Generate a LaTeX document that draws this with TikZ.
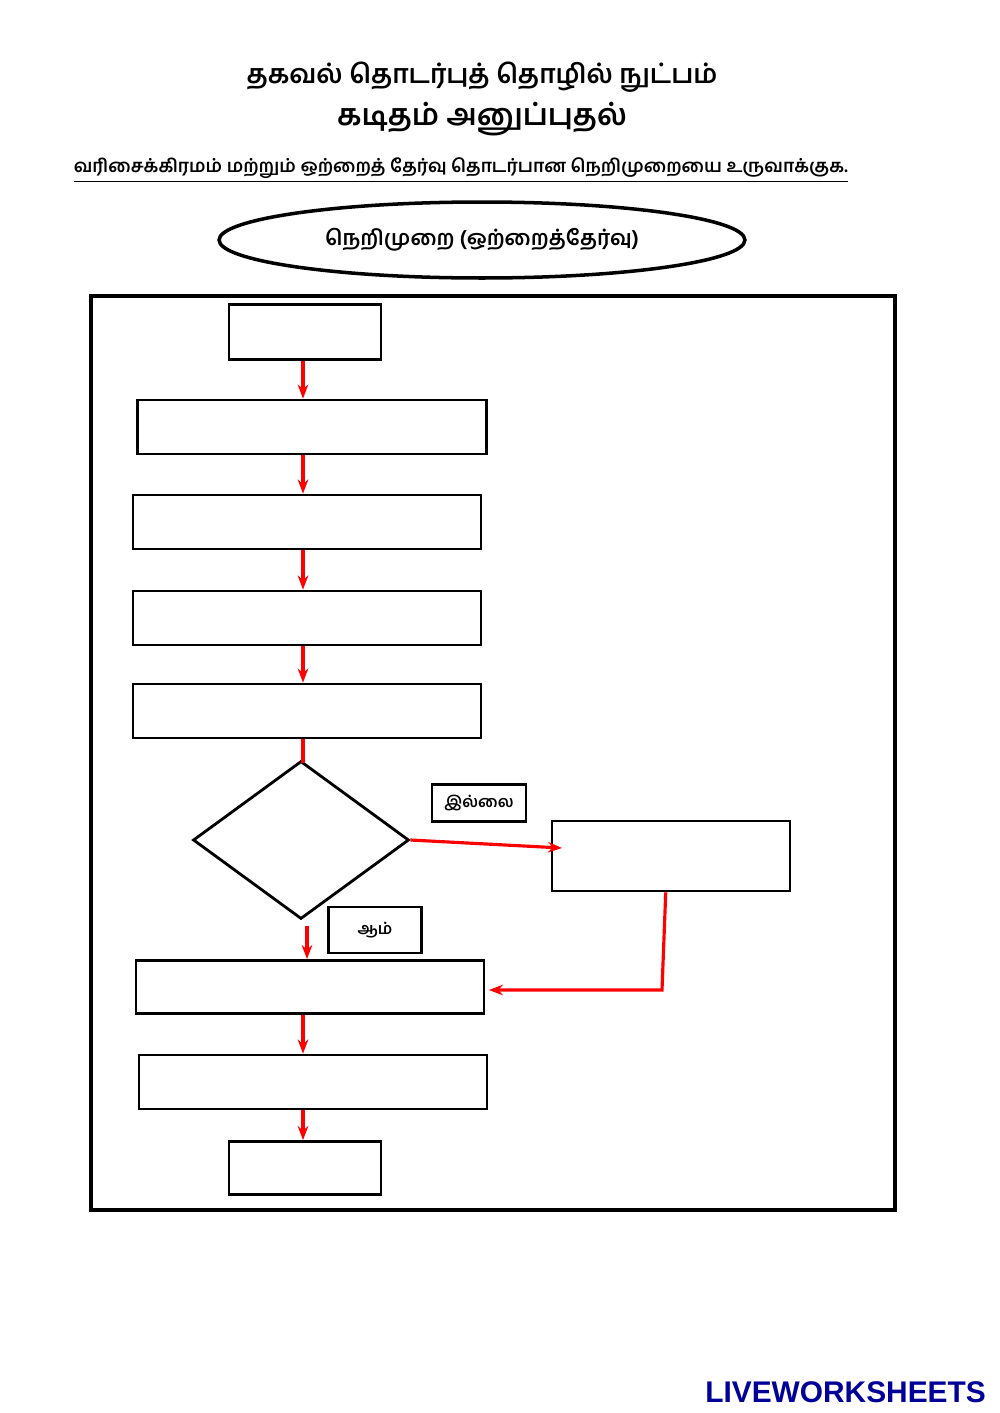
\documentclass[tikz,border=0pt]{standalone}
\usepackage{fontspec}
\newfontfamily\tamil[Script=Tamil]{Hind Madurai}
\setmainfont{Liberation Sans}
\usetikzlibrary{shapes.geometric,arrows.meta}
\tikzset{
    pbox/.style={draw, line width=1.6pt, rectangle, inner sep=0pt},
    tagbox/.style={draw, line width=1.4pt, rectangle, inner sep=0pt, font=\tamil\bfseries\small},
    flow/.style={draw=red, line width=1.8pt, -{Stealth[length=8pt]}},
}
\begin{document}
\begin{tikzpicture}[x=0.02cm,y=-0.02cm]
    \useasboundingbox (0,0) rectangle (1000,1413);
    % headings
    \node (title) at (482,77) {\tamil\bfseries\fontsize{15}{17}\selectfont தகவல் தொடர்புத் தொழில் நுட்பம்};
    \node (subtitle) at (482,119) {\tamil\bfseries\fontsize{17}{20}\selectfont கடிதம் அனுப்புதல்};
    \node (task) at (461,170) {\tamil\bfseries\fontsize{10.3}{12}\selectfont\underline{வரிசைக்கிரமம் மற்றும் ஒற்றைத் தேர்வு தொடர்பான நெறிமுறையை உருவாக்குக.}};
    \node[draw, ellipse, line width=2pt, minimum width=10.52cm, minimum height=1.52cm] (algo) at (482,240)
        {\tamil\bfseries\fontsize{12}{14}\selectfont நெறிமுறை (ஒற்றைத்தேர்வு)};
    % frame
    \draw[line width=2.2pt] (91,296) rectangle (895,1210);
    % flowchart boxes
    \node[pbox, minimum width=3.04cm, minimum height=1.1cm] (start) at (305,332) {};
    \node[pbox, minimum width=6.98cm, minimum height=1.08cm] (b1) at (312,427) {};
    \node[pbox, minimum width=6.96cm, minimum height=1.08cm] (b2) at (307,522) {};
    \node[pbox, minimum width=6.96cm, minimum height=1.08cm] (b3) at (307,618) {};
    \node[pbox, minimum width=6.96cm, minimum height=1.08cm] (b4) at (307,711) {};
    \node[draw, diamond, line width=1.6pt, inner sep=0pt, minimum width=4.32cm, minimum height=3.16cm] (check) at (301,840) {};
    \node[pbox, minimum width=4.76cm, minimum height=1.4cm] (alt) at (671,856) {};
    \node[pbox, minimum width=6.96cm, minimum height=1.06cm] (b5) at (310,987) {};
    \node[pbox, minimum width=6.96cm, minimum height=1.08cm] (b6) at (313,1082) {};
    \node[pbox, minimum width=3.04cm, minimum height=1.06cm] (stop) at (305,1168) {};
    % branch labels
    \node[tagbox, minimum width=1.88cm, minimum height=0.74cm] (no) at (479,803) {இல்லை};
    \node[tagbox, minimum width=1.86cm, minimum height=0.92cm] (yes) at (375,930) {ஆம்};
    % connectors
    \coordinate (axis) at (303,0);
    \coordinate (yaxis) at (307,0);
    \draw[flow] (start.south -| axis) -- (b1.north -| axis);
    \draw[flow] (b1.south -| axis) -- (b2.north -| axis);
    \draw[flow] (b2.south -| axis) -- (b3.north -| axis);
    \draw[flow] (b3.south -| axis) -- (b4.north -| axis);
    \draw[draw=red, line width=1.8pt] (b4.south -| axis) -- ([yshift=-2pt]check.north -| axis);
    \coordinate (hit) at (562,848);
    \draw[flow] (check.east) -- (hit);
    \draw[flow] ([yshift=-3pt]check.south -| yaxis) -- (b5.north -| yaxis);
    \coordinate (turn) at (662,990);
    \draw[flow] ([xshift=-3pt]alt.south) -- (turn) -- ([xshift=2pt]b5.east |- turn);
    \draw[flow] (b5.south -| axis) -- (b6.north -| axis);
    \draw[flow] (b6.south -| axis) -- (stop.north -| axis);
    % watermark
    \node[anchor=east, font=\bfseries\fontsize{17}{19}\selectfont, text=blue!60!black] (mark) at (992,1392) {LIVEWORKSHEETS};
\end{tikzpicture}
\end{document}
